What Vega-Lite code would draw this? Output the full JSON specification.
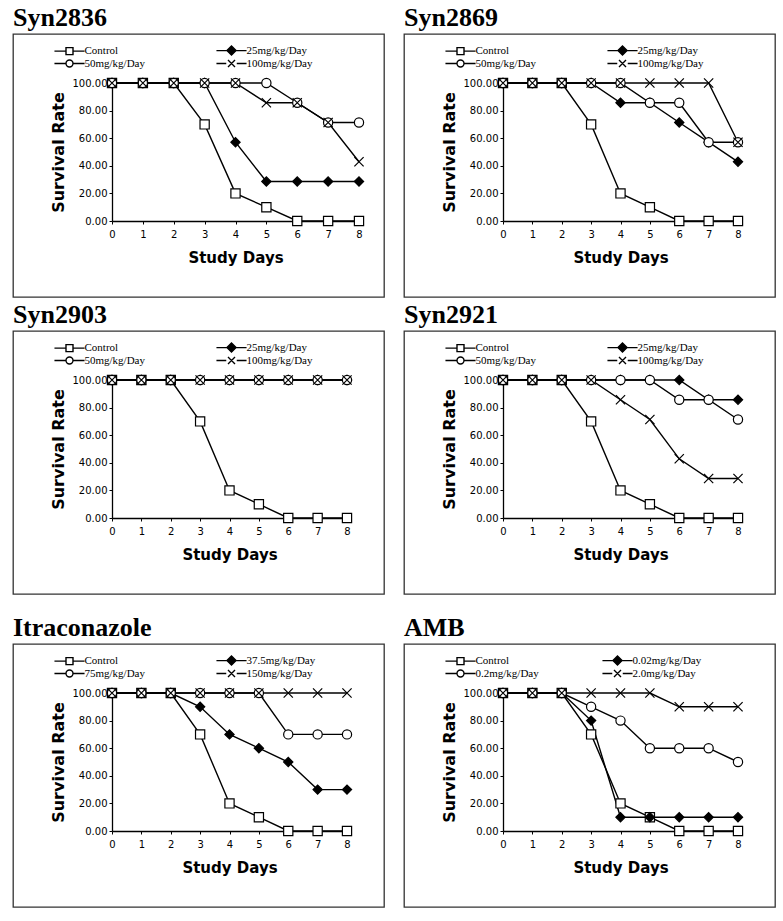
{
  "$schema": "https://vega.github.io/schema/vega-lite/v6.json",
  "background": "white",
  "padding": {"left": 12, "top": 4, "right": 5, "bottom": 5},
  "config": {
    "view": {"stroke": "#333333", "strokeWidth": 1.3},
    "title": {"anchor": "start", "font": "Liberation Serif", "fontSize": 26, "fontWeight": "bold", "color": "black", "offset": 3},
    "axis": {"grid": false, "domainColor": "black", "domainWidth": 1.3, "tickColor": "black", "tickSize": 3, "tickWidth": 1, "labelFont": "DejaVu Sans", "labelFontSize": 10, "labelColor": "black", "labelFlush": false, "titleFont": "DejaVu Sans", "titleFontSize": 15, "titleFontWeight": "bold", "titleColor": "black"},
    "axisX": {"labelPadding": 5, "titlePadding": 11},
    "axisY": {"labelPadding": 2, "titlePadding": 6, "titleFontSize": 16},
    "legend": {"orient": "none", "legendX": 51, "legendY": 11, "columns": 2, "rowPadding": -2, "labelFont": "Liberation Serif", "labelFontSize": 11, "labelColor": "black", "labelOffset": 9.5, "symbolSize": 49, "symbolStrokeWidth": 1.4}
  },
  "datasets": {
    "surv": [
      {"panel":"Syn2836","series":"Control","day":0,"rate":100},{"panel":"Syn2836","series":"Control","day":1,"rate":100},{"panel":"Syn2836","series":"Control","day":2,"rate":100},{"panel":"Syn2836","series":"Control","day":3,"rate":70},{"panel":"Syn2836","series":"Control","day":4,"rate":20},{"panel":"Syn2836","series":"Control","day":5,"rate":10},{"panel":"Syn2836","series":"Control","day":6,"rate":0},{"panel":"Syn2836","series":"Control","day":7,"rate":0},{"panel":"Syn2836","series":"Control","day":8,"rate":0},
      {"panel":"Syn2836","series":"25mg/kg/Day","day":0,"rate":100},{"panel":"Syn2836","series":"25mg/kg/Day","day":1,"rate":100},{"panel":"Syn2836","series":"25mg/kg/Day","day":2,"rate":100},{"panel":"Syn2836","series":"25mg/kg/Day","day":3,"rate":100},{"panel":"Syn2836","series":"25mg/kg/Day","day":4,"rate":57.1},{"panel":"Syn2836","series":"25mg/kg/Day","day":5,"rate":28.6},{"panel":"Syn2836","series":"25mg/kg/Day","day":6,"rate":28.6},{"panel":"Syn2836","series":"25mg/kg/Day","day":7,"rate":28.6},{"panel":"Syn2836","series":"25mg/kg/Day","day":8,"rate":28.6},
      {"panel":"Syn2836","series":"50mg/kg/Day","day":0,"rate":100},{"panel":"Syn2836","series":"50mg/kg/Day","day":1,"rate":100},{"panel":"Syn2836","series":"50mg/kg/Day","day":2,"rate":100},{"panel":"Syn2836","series":"50mg/kg/Day","day":3,"rate":100},{"panel":"Syn2836","series":"50mg/kg/Day","day":4,"rate":100},{"panel":"Syn2836","series":"50mg/kg/Day","day":5,"rate":100},{"panel":"Syn2836","series":"50mg/kg/Day","day":6,"rate":85.7},{"panel":"Syn2836","series":"50mg/kg/Day","day":7,"rate":71.4},{"panel":"Syn2836","series":"50mg/kg/Day","day":8,"rate":71.4},
      {"panel":"Syn2836","series":"100mg/kg/Day","day":0,"rate":100},{"panel":"Syn2836","series":"100mg/kg/Day","day":1,"rate":100},{"panel":"Syn2836","series":"100mg/kg/Day","day":2,"rate":100},{"panel":"Syn2836","series":"100mg/kg/Day","day":3,"rate":100},{"panel":"Syn2836","series":"100mg/kg/Day","day":4,"rate":100},{"panel":"Syn2836","series":"100mg/kg/Day","day":5,"rate":85.7},{"panel":"Syn2836","series":"100mg/kg/Day","day":6,"rate":85.7},{"panel":"Syn2836","series":"100mg/kg/Day","day":7,"rate":71.4},{"panel":"Syn2836","series":"100mg/kg/Day","day":8,"rate":42.9},

      {"panel":"Syn2869","series":"Control","day":0,"rate":100},{"panel":"Syn2869","series":"Control","day":1,"rate":100},{"panel":"Syn2869","series":"Control","day":2,"rate":100},{"panel":"Syn2869","series":"Control","day":3,"rate":70},{"panel":"Syn2869","series":"Control","day":4,"rate":20},{"panel":"Syn2869","series":"Control","day":5,"rate":10},{"panel":"Syn2869","series":"Control","day":6,"rate":0},{"panel":"Syn2869","series":"Control","day":7,"rate":0},{"panel":"Syn2869","series":"Control","day":8,"rate":0},
      {"panel":"Syn2869","series":"25mg/kg/Day","day":0,"rate":100},{"panel":"Syn2869","series":"25mg/kg/Day","day":1,"rate":100},{"panel":"Syn2869","series":"25mg/kg/Day","day":2,"rate":100},{"panel":"Syn2869","series":"25mg/kg/Day","day":3,"rate":100},{"panel":"Syn2869","series":"25mg/kg/Day","day":4,"rate":85.7},{"panel":"Syn2869","series":"25mg/kg/Day","day":5,"rate":85.7},{"panel":"Syn2869","series":"25mg/kg/Day","day":6,"rate":71.4},{"panel":"Syn2869","series":"25mg/kg/Day","day":7,"rate":57.1},{"panel":"Syn2869","series":"25mg/kg/Day","day":8,"rate":42.9},
      {"panel":"Syn2869","series":"50mg/kg/Day","day":0,"rate":100},{"panel":"Syn2869","series":"50mg/kg/Day","day":1,"rate":100},{"panel":"Syn2869","series":"50mg/kg/Day","day":2,"rate":100},{"panel":"Syn2869","series":"50mg/kg/Day","day":3,"rate":100},{"panel":"Syn2869","series":"50mg/kg/Day","day":4,"rate":100},{"panel":"Syn2869","series":"50mg/kg/Day","day":5,"rate":85.7},{"panel":"Syn2869","series":"50mg/kg/Day","day":6,"rate":85.7},{"panel":"Syn2869","series":"50mg/kg/Day","day":7,"rate":57.1},{"panel":"Syn2869","series":"50mg/kg/Day","day":8,"rate":57.1},
      {"panel":"Syn2869","series":"100mg/kg/Day","day":0,"rate":100},{"panel":"Syn2869","series":"100mg/kg/Day","day":1,"rate":100},{"panel":"Syn2869","series":"100mg/kg/Day","day":2,"rate":100},{"panel":"Syn2869","series":"100mg/kg/Day","day":3,"rate":100},{"panel":"Syn2869","series":"100mg/kg/Day","day":4,"rate":100},{"panel":"Syn2869","series":"100mg/kg/Day","day":5,"rate":100},{"panel":"Syn2869","series":"100mg/kg/Day","day":6,"rate":100},{"panel":"Syn2869","series":"100mg/kg/Day","day":7,"rate":100},{"panel":"Syn2869","series":"100mg/kg/Day","day":8,"rate":57.1},

      {"panel":"Syn2903","series":"Control","day":0,"rate":100},{"panel":"Syn2903","series":"Control","day":1,"rate":100},{"panel":"Syn2903","series":"Control","day":2,"rate":100},{"panel":"Syn2903","series":"Control","day":3,"rate":70},{"panel":"Syn2903","series":"Control","day":4,"rate":20},{"panel":"Syn2903","series":"Control","day":5,"rate":10},{"panel":"Syn2903","series":"Control","day":6,"rate":0},{"panel":"Syn2903","series":"Control","day":7,"rate":0},{"panel":"Syn2903","series":"Control","day":8,"rate":0},
      {"panel":"Syn2903","series":"25mg/kg/Day","day":0,"rate":100},{"panel":"Syn2903","series":"25mg/kg/Day","day":1,"rate":100},{"panel":"Syn2903","series":"25mg/kg/Day","day":2,"rate":100},{"panel":"Syn2903","series":"25mg/kg/Day","day":3,"rate":100},{"panel":"Syn2903","series":"25mg/kg/Day","day":4,"rate":100},{"panel":"Syn2903","series":"25mg/kg/Day","day":5,"rate":100},{"panel":"Syn2903","series":"25mg/kg/Day","day":6,"rate":100},{"panel":"Syn2903","series":"25mg/kg/Day","day":7,"rate":100},{"panel":"Syn2903","series":"25mg/kg/Day","day":8,"rate":100},
      {"panel":"Syn2903","series":"50mg/kg/Day","day":0,"rate":100},{"panel":"Syn2903","series":"50mg/kg/Day","day":1,"rate":100},{"panel":"Syn2903","series":"50mg/kg/Day","day":2,"rate":100},{"panel":"Syn2903","series":"50mg/kg/Day","day":3,"rate":100},{"panel":"Syn2903","series":"50mg/kg/Day","day":4,"rate":100},{"panel":"Syn2903","series":"50mg/kg/Day","day":5,"rate":100},{"panel":"Syn2903","series":"50mg/kg/Day","day":6,"rate":100},{"panel":"Syn2903","series":"50mg/kg/Day","day":7,"rate":100},{"panel":"Syn2903","series":"50mg/kg/Day","day":8,"rate":100},
      {"panel":"Syn2903","series":"100mg/kg/Day","day":0,"rate":100},{"panel":"Syn2903","series":"100mg/kg/Day","day":1,"rate":100},{"panel":"Syn2903","series":"100mg/kg/Day","day":2,"rate":100},{"panel":"Syn2903","series":"100mg/kg/Day","day":3,"rate":100},{"panel":"Syn2903","series":"100mg/kg/Day","day":4,"rate":100},{"panel":"Syn2903","series":"100mg/kg/Day","day":5,"rate":100},{"panel":"Syn2903","series":"100mg/kg/Day","day":6,"rate":100},{"panel":"Syn2903","series":"100mg/kg/Day","day":7,"rate":100},{"panel":"Syn2903","series":"100mg/kg/Day","day":8,"rate":100},

      {"panel":"Syn2921","series":"Control","day":0,"rate":100},{"panel":"Syn2921","series":"Control","day":1,"rate":100},{"panel":"Syn2921","series":"Control","day":2,"rate":100},{"panel":"Syn2921","series":"Control","day":3,"rate":70},{"panel":"Syn2921","series":"Control","day":4,"rate":20},{"panel":"Syn2921","series":"Control","day":5,"rate":10},{"panel":"Syn2921","series":"Control","day":6,"rate":0},{"panel":"Syn2921","series":"Control","day":7,"rate":0},{"panel":"Syn2921","series":"Control","day":8,"rate":0},
      {"panel":"Syn2921","series":"25mg/kg/Day","day":0,"rate":100},{"panel":"Syn2921","series":"25mg/kg/Day","day":1,"rate":100},{"panel":"Syn2921","series":"25mg/kg/Day","day":2,"rate":100},{"panel":"Syn2921","series":"25mg/kg/Day","day":3,"rate":100},{"panel":"Syn2921","series":"25mg/kg/Day","day":4,"rate":100},{"panel":"Syn2921","series":"25mg/kg/Day","day":5,"rate":100},{"panel":"Syn2921","series":"25mg/kg/Day","day":6,"rate":100},{"panel":"Syn2921","series":"25mg/kg/Day","day":7,"rate":85.7},{"panel":"Syn2921","series":"25mg/kg/Day","day":8,"rate":85.7},
      {"panel":"Syn2921","series":"50mg/kg/Day","day":0,"rate":100},{"panel":"Syn2921","series":"50mg/kg/Day","day":1,"rate":100},{"panel":"Syn2921","series":"50mg/kg/Day","day":2,"rate":100},{"panel":"Syn2921","series":"50mg/kg/Day","day":3,"rate":100},{"panel":"Syn2921","series":"50mg/kg/Day","day":4,"rate":100},{"panel":"Syn2921","series":"50mg/kg/Day","day":5,"rate":100},{"panel":"Syn2921","series":"50mg/kg/Day","day":6,"rate":85.7},{"panel":"Syn2921","series":"50mg/kg/Day","day":7,"rate":85.7},{"panel":"Syn2921","series":"50mg/kg/Day","day":8,"rate":71.4},
      {"panel":"Syn2921","series":"100mg/kg/Day","day":0,"rate":100},{"panel":"Syn2921","series":"100mg/kg/Day","day":1,"rate":100},{"panel":"Syn2921","series":"100mg/kg/Day","day":2,"rate":100},{"panel":"Syn2921","series":"100mg/kg/Day","day":3,"rate":100},{"panel":"Syn2921","series":"100mg/kg/Day","day":4,"rate":85.7},{"panel":"Syn2921","series":"100mg/kg/Day","day":5,"rate":71.4},{"panel":"Syn2921","series":"100mg/kg/Day","day":6,"rate":42.9},{"panel":"Syn2921","series":"100mg/kg/Day","day":7,"rate":28.6},{"panel":"Syn2921","series":"100mg/kg/Day","day":8,"rate":28.6},

      {"panel":"Itraconazole","series":"Control","day":0,"rate":100},{"panel":"Itraconazole","series":"Control","day":1,"rate":100},{"panel":"Itraconazole","series":"Control","day":2,"rate":100},{"panel":"Itraconazole","series":"Control","day":3,"rate":70},{"panel":"Itraconazole","series":"Control","day":4,"rate":20},{"panel":"Itraconazole","series":"Control","day":5,"rate":10},{"panel":"Itraconazole","series":"Control","day":6,"rate":0},{"panel":"Itraconazole","series":"Control","day":7,"rate":0},{"panel":"Itraconazole","series":"Control","day":8,"rate":0},
      {"panel":"Itraconazole","series":"37.5mg/kg/Day","day":0,"rate":100},{"panel":"Itraconazole","series":"37.5mg/kg/Day","day":1,"rate":100},{"panel":"Itraconazole","series":"37.5mg/kg/Day","day":2,"rate":100},{"panel":"Itraconazole","series":"37.5mg/kg/Day","day":3,"rate":90},{"panel":"Itraconazole","series":"37.5mg/kg/Day","day":4,"rate":70},{"panel":"Itraconazole","series":"37.5mg/kg/Day","day":5,"rate":60},{"panel":"Itraconazole","series":"37.5mg/kg/Day","day":6,"rate":50},{"panel":"Itraconazole","series":"37.5mg/kg/Day","day":7,"rate":30},{"panel":"Itraconazole","series":"37.5mg/kg/Day","day":8,"rate":30},
      {"panel":"Itraconazole","series":"75mg/kg/Day","day":0,"rate":100},{"panel":"Itraconazole","series":"75mg/kg/Day","day":1,"rate":100},{"panel":"Itraconazole","series":"75mg/kg/Day","day":2,"rate":100},{"panel":"Itraconazole","series":"75mg/kg/Day","day":3,"rate":100},{"panel":"Itraconazole","series":"75mg/kg/Day","day":4,"rate":100},{"panel":"Itraconazole","series":"75mg/kg/Day","day":5,"rate":100},{"panel":"Itraconazole","series":"75mg/kg/Day","day":6,"rate":70},{"panel":"Itraconazole","series":"75mg/kg/Day","day":7,"rate":70},{"panel":"Itraconazole","series":"75mg/kg/Day","day":8,"rate":70},
      {"panel":"Itraconazole","series":"150mg/kg/Day","day":0,"rate":100},{"panel":"Itraconazole","series":"150mg/kg/Day","day":1,"rate":100},{"panel":"Itraconazole","series":"150mg/kg/Day","day":2,"rate":100},{"panel":"Itraconazole","series":"150mg/kg/Day","day":3,"rate":100},{"panel":"Itraconazole","series":"150mg/kg/Day","day":4,"rate":100},{"panel":"Itraconazole","series":"150mg/kg/Day","day":5,"rate":100},{"panel":"Itraconazole","series":"150mg/kg/Day","day":6,"rate":100},{"panel":"Itraconazole","series":"150mg/kg/Day","day":7,"rate":100},{"panel":"Itraconazole","series":"150mg/kg/Day","day":8,"rate":100},

      {"panel":"AMB","series":"Control","day":0,"rate":100},{"panel":"AMB","series":"Control","day":1,"rate":100},{"panel":"AMB","series":"Control","day":2,"rate":100},{"panel":"AMB","series":"Control","day":3,"rate":70},{"panel":"AMB","series":"Control","day":4,"rate":20},{"panel":"AMB","series":"Control","day":5,"rate":10},{"panel":"AMB","series":"Control","day":6,"rate":0},{"panel":"AMB","series":"Control","day":7,"rate":0},{"panel":"AMB","series":"Control","day":8,"rate":0},
      {"panel":"AMB","series":"0.02mg/kg/Day","day":0,"rate":100},{"panel":"AMB","series":"0.02mg/kg/Day","day":1,"rate":100},{"panel":"AMB","series":"0.02mg/kg/Day","day":2,"rate":100},{"panel":"AMB","series":"0.02mg/kg/Day","day":3,"rate":80},{"panel":"AMB","series":"0.02mg/kg/Day","day":4,"rate":10},{"panel":"AMB","series":"0.02mg/kg/Day","day":5,"rate":10},{"panel":"AMB","series":"0.02mg/kg/Day","day":6,"rate":10},{"panel":"AMB","series":"0.02mg/kg/Day","day":7,"rate":10},{"panel":"AMB","series":"0.02mg/kg/Day","day":8,"rate":10},
      {"panel":"AMB","series":"0.2mg/kg/Day","day":0,"rate":100},{"panel":"AMB","series":"0.2mg/kg/Day","day":1,"rate":100},{"panel":"AMB","series":"0.2mg/kg/Day","day":2,"rate":100},{"panel":"AMB","series":"0.2mg/kg/Day","day":3,"rate":90},{"panel":"AMB","series":"0.2mg/kg/Day","day":4,"rate":80},{"panel":"AMB","series":"0.2mg/kg/Day","day":5,"rate":60},{"panel":"AMB","series":"0.2mg/kg/Day","day":6,"rate":60},{"panel":"AMB","series":"0.2mg/kg/Day","day":7,"rate":60},{"panel":"AMB","series":"0.2mg/kg/Day","day":8,"rate":50},
      {"panel":"AMB","series":"2.0mg/kg/Day","day":0,"rate":100},{"panel":"AMB","series":"2.0mg/kg/Day","day":1,"rate":100},{"panel":"AMB","series":"2.0mg/kg/Day","day":2,"rate":100},{"panel":"AMB","series":"2.0mg/kg/Day","day":3,"rate":100},{"panel":"AMB","series":"2.0mg/kg/Day","day":4,"rate":100},{"panel":"AMB","series":"2.0mg/kg/Day","day":5,"rate":100},{"panel":"AMB","series":"2.0mg/kg/Day","day":6,"rate":90},{"panel":"AMB","series":"2.0mg/kg/Day","day":7,"rate":90},{"panel":"AMB","series":"2.0mg/kg/Day","day":8,"rate":90}
    ]
  },
  "data": {"name": "surv"},
  "spacing": 19,
  "vconcat": [
    {
      "spacing": 3,
      "vconcat": [
        {
          "spacing": 18,
          "hconcat": [
            {
              "width": 371, "height": 263,
              "title": "Syn2836",
              "transform": [{"filter": "datum.panel === 'Syn2836'"}],
              "encoding": {
                "x": {"field": "day", "type": "quantitative", "scale": {"domain": [0, 8], "range": [99, 346], "nice": false, "zero": false}, "axis": {"values": [0,1,2,3,4,5,6,7,8], "offset": -76, "title": "Study Days"}},
                "y": {"field": "rate", "type": "quantitative", "scale": {"domain": [0, 100], "range": [187, 49], "nice": false}, "axis": {"values": [0,20,40,60,80,100], "format": ".2f", "offset": -99, "title": "Survival Rate"}}
              },
              "layer": [
                {"mark": {"type": "line", "color": "black", "strokeWidth": 1.4}, "encoding": {"detail": {"field": "series"}}},
                {"mark": {"type": "point", "filled": true, "stroke": "black", "strokeWidth": 1.2, "size": 85, "opacity": 1},
                 "encoding": {
                   "shape": {"field": "series", "scale": {"domain": ["Control","25mg/kg/Day","50mg/kg/Day","100mg/kg/Day"], "range": ["square","diamond","circle","M-1,-1L1,1M-1,1L1,-1"]}, "legend": null},
                   "fill": {"field": "series", "scale": {"domain": ["Control","25mg/kg/Day","50mg/kg/Day","100mg/kg/Day"], "range": ["white","black","white","white"]}, "legend": null}}},
                {"transform": [{"filter": "datum.day < 0"}],
                 "mark": {"type": "point", "filled": true, "strokeWidth": 1.4, "opacity": 1},
                 "encoding": {
                   "shape": {"field": "series", "scale": {"domain": ["Control","50mg/kg/Day","25mg/kg/Day","100mg/kg/Day"], "range": ["M-4.3,0H-1M1,0H4.3M-1,-1H1V1H-1Z","M-4.3,0H-1M1,0H4.3M-1,0A1,1,0,1,1,1,0A1,1,0,1,1,-1,0Z","M-4.3,0H4.3M0,-1.3L1.3,0L0,1.3L-1.3,0Z","M-4.3,0H-1.5M1.5,0H4.3M-1,-1L1,1M-1,1L1,-1"]}, "legend": {"title": null, "columnPadding": 68}},
                   "fill": {"field": "series", "scale": {"domain": ["Control","50mg/kg/Day","25mg/kg/Day","100mg/kg/Day"], "range": ["white","white","black","white"]}, "legend": {"title": null, "columnPadding": 68}},
                   "stroke": {"field": "series", "scale": {"domain": ["Control","50mg/kg/Day","25mg/kg/Day","100mg/kg/Day"], "range": ["black","black","black","black"]}, "legend": {"title": null, "columnPadding": 68}}}}
              ],
              "resolve": {"scale": {"shape": "independent", "fill": "independent", "stroke": "independent"}}
            },
            {
              "width": 371, "height": 263,
              "title": "Syn2869",
              "transform": [{"filter": "datum.panel === 'Syn2869'"}],
              "encoding": {
                "x": {"field": "day", "type": "quantitative", "scale": {"domain": [0, 8], "range": [99, 334], "nice": false, "zero": false}, "axis": {"values": [0,1,2,3,4,5,6,7,8], "offset": -76, "title": "Study Days"}},
                "y": {"field": "rate", "type": "quantitative", "scale": {"domain": [0, 100], "range": [187, 49], "nice": false}, "axis": {"values": [0,20,40,60,80,100], "format": ".2f", "offset": -99, "title": "Survival Rate"}}
              },
              "layer": [
                {"mark": {"type": "line", "color": "black", "strokeWidth": 1.4}, "encoding": {"detail": {"field": "series"}}},
                {"mark": {"type": "point", "filled": true, "stroke": "black", "strokeWidth": 1.2, "size": 85, "opacity": 1},
                 "encoding": {
                   "shape": {"field": "series", "scale": {"domain": ["Control","25mg/kg/Day","50mg/kg/Day","100mg/kg/Day"], "range": ["square","diamond","circle","M-1,-1L1,1M-1,1L1,-1"]}, "legend": null},
                   "fill": {"field": "series", "scale": {"domain": ["Control","25mg/kg/Day","50mg/kg/Day","100mg/kg/Day"], "range": ["white","black","white","white"]}, "legend": null}}},
                {"transform": [{"filter": "datum.day < 0"}],
                 "mark": {"type": "point", "filled": true, "strokeWidth": 1.4, "opacity": 1},
                 "encoding": {
                   "shape": {"field": "series", "scale": {"domain": ["Control","50mg/kg/Day","25mg/kg/Day","100mg/kg/Day"], "range": ["M-4.3,0H-1M1,0H4.3M-1,-1H1V1H-1Z","M-4.3,0H-1M1,0H4.3M-1,0A1,1,0,1,1,1,0A1,1,0,1,1,-1,0Z","M-4.3,0H4.3M0,-1.3L1.3,0L0,1.3L-1.3,0Z","M-4.3,0H-1.5M1.5,0H4.3M-1,-1L1,1M-1,1L1,-1"]}, "legend": {"title": null, "columnPadding": 68}},
                   "fill": {"field": "series", "scale": {"domain": ["Control","50mg/kg/Day","25mg/kg/Day","100mg/kg/Day"], "range": ["white","white","black","white"]}, "legend": {"title": null, "columnPadding": 68}},
                   "stroke": {"field": "series", "scale": {"domain": ["Control","50mg/kg/Day","25mg/kg/Day","100mg/kg/Day"], "range": ["black","black","black","black"]}, "legend": {"title": null, "columnPadding": 68}}}}
              ],
              "resolve": {"scale": {"shape": "independent", "fill": "independent", "stroke": "independent"}}
            }
          ]
        },
        {
          "spacing": 18,
          "hconcat": [
            {
              "width": 371, "height": 263,
              "title": "Syn2903",
              "transform": [{"filter": "datum.panel === 'Syn2903'"}],
              "encoding": {
                "x": {"field": "day", "type": "quantitative", "scale": {"domain": [0, 8], "range": [99, 334], "nice": false, "zero": false}, "axis": {"values": [0,1,2,3,4,5,6,7,8], "offset": -76, "title": "Study Days"}},
                "y": {"field": "rate", "type": "quantitative", "scale": {"domain": [0, 100], "range": [187, 49], "nice": false}, "axis": {"values": [0,20,40,60,80,100], "format": ".2f", "offset": -99, "title": "Survival Rate"}}
              },
              "layer": [
                {"mark": {"type": "line", "color": "black", "strokeWidth": 1.4}, "encoding": {"detail": {"field": "series"}}},
                {"mark": {"type": "point", "filled": true, "stroke": "black", "strokeWidth": 1.2, "size": 85, "opacity": 1},
                 "encoding": {
                   "shape": {"field": "series", "scale": {"domain": ["Control","25mg/kg/Day","50mg/kg/Day","100mg/kg/Day"], "range": ["square","diamond","circle","M-1,-1L1,1M-1,1L1,-1"]}, "legend": null},
                   "fill": {"field": "series", "scale": {"domain": ["Control","25mg/kg/Day","50mg/kg/Day","100mg/kg/Day"], "range": ["white","black","white","white"]}, "legend": null}}},
                {"transform": [{"filter": "datum.day < 0"}],
                 "mark": {"type": "point", "filled": true, "strokeWidth": 1.4, "opacity": 1},
                 "encoding": {
                   "shape": {"field": "series", "scale": {"domain": ["Control","50mg/kg/Day","25mg/kg/Day","100mg/kg/Day"], "range": ["M-4.3,0H-1M1,0H4.3M-1,-1H1V1H-1Z","M-4.3,0H-1M1,0H4.3M-1,0A1,1,0,1,1,1,0A1,1,0,1,1,-1,0Z","M-4.3,0H4.3M0,-1.3L1.3,0L0,1.3L-1.3,0Z","M-4.3,0H-1.5M1.5,0H4.3M-1,-1L1,1M-1,1L1,-1"]}, "legend": {"title": null, "columnPadding": 68}},
                   "fill": {"field": "series", "scale": {"domain": ["Control","50mg/kg/Day","25mg/kg/Day","100mg/kg/Day"], "range": ["white","white","black","white"]}, "legend": {"title": null, "columnPadding": 68}},
                   "stroke": {"field": "series", "scale": {"domain": ["Control","50mg/kg/Day","25mg/kg/Day","100mg/kg/Day"], "range": ["black","black","black","black"]}, "legend": {"title": null, "columnPadding": 68}}}}
              ],
              "resolve": {"scale": {"shape": "independent", "fill": "independent", "stroke": "independent"}}
            },
            {
              "width": 371, "height": 263,
              "title": "Syn2921",
              "transform": [{"filter": "datum.panel === 'Syn2921'"}],
              "encoding": {
                "x": {"field": "day", "type": "quantitative", "scale": {"domain": [0, 8], "range": [99, 334], "nice": false, "zero": false}, "axis": {"values": [0,1,2,3,4,5,6,7,8], "offset": -76, "title": "Study Days"}},
                "y": {"field": "rate", "type": "quantitative", "scale": {"domain": [0, 100], "range": [187, 49], "nice": false}, "axis": {"values": [0,20,40,60,80,100], "format": ".2f", "offset": -99, "title": "Survival Rate"}}
              },
              "layer": [
                {"mark": {"type": "line", "color": "black", "strokeWidth": 1.4}, "encoding": {"detail": {"field": "series"}}},
                {"mark": {"type": "point", "filled": true, "stroke": "black", "strokeWidth": 1.2, "size": 85, "opacity": 1},
                 "encoding": {
                   "shape": {"field": "series", "scale": {"domain": ["Control","25mg/kg/Day","50mg/kg/Day","100mg/kg/Day"], "range": ["square","diamond","circle","M-1,-1L1,1M-1,1L1,-1"]}, "legend": null},
                   "fill": {"field": "series", "scale": {"domain": ["Control","25mg/kg/Day","50mg/kg/Day","100mg/kg/Day"], "range": ["white","black","white","white"]}, "legend": null}}},
                {"transform": [{"filter": "datum.day < 0"}],
                 "mark": {"type": "point", "filled": true, "strokeWidth": 1.4, "opacity": 1},
                 "encoding": {
                   "shape": {"field": "series", "scale": {"domain": ["Control","50mg/kg/Day","25mg/kg/Day","100mg/kg/Day"], "range": ["M-4.3,0H-1M1,0H4.3M-1,-1H1V1H-1Z","M-4.3,0H-1M1,0H4.3M-1,0A1,1,0,1,1,1,0A1,1,0,1,1,-1,0Z","M-4.3,0H4.3M0,-1.3L1.3,0L0,1.3L-1.3,0Z","M-4.3,0H-1.5M1.5,0H4.3M-1,-1L1,1M-1,1L1,-1"]}, "legend": {"title": null, "columnPadding": 68}},
                   "fill": {"field": "series", "scale": {"domain": ["Control","50mg/kg/Day","25mg/kg/Day","100mg/kg/Day"], "range": ["white","white","black","white"]}, "legend": {"title": null, "columnPadding": 68}},
                   "stroke": {"field": "series", "scale": {"domain": ["Control","50mg/kg/Day","25mg/kg/Day","100mg/kg/Day"], "range": ["black","black","black","black"]}, "legend": {"title": null, "columnPadding": 68}}}}
              ],
              "resolve": {"scale": {"shape": "independent", "fill": "independent", "stroke": "independent"}}
            }
          ]
        }
      ]
    },
    {
      "spacing": 18,
      "hconcat": [
        {
          "width": 371, "height": 263,
          "title": "Itraconazole",
          "transform": [{"filter": "datum.panel === 'Itraconazole'"}],
          "encoding": {
            "x": {"field": "day", "type": "quantitative", "scale": {"domain": [0, 8], "range": [99, 334], "nice": false, "zero": false}, "axis": {"values": [0,1,2,3,4,5,6,7,8], "offset": -76, "title": "Study Days"}},
            "y": {"field": "rate", "type": "quantitative", "scale": {"domain": [0, 100], "range": [187, 49], "nice": false}, "axis": {"values": [0,20,40,60,80,100], "format": ".2f", "offset": -99, "title": "Survival Rate"}}
          },
          "layer": [
            {"mark": {"type": "line", "color": "black", "strokeWidth": 1.4}, "encoding": {"detail": {"field": "series"}}},
            {"mark": {"type": "point", "filled": true, "stroke": "black", "strokeWidth": 1.2, "size": 85, "opacity": 1},
             "encoding": {
               "shape": {"field": "series", "scale": {"domain": ["Control","37.5mg/kg/Day","75mg/kg/Day","150mg/kg/Day"], "range": ["square","diamond","circle","M-1,-1L1,1M-1,1L1,-1"]}, "legend": null},
               "fill": {"field": "series", "scale": {"domain": ["Control","37.5mg/kg/Day","75mg/kg/Day","150mg/kg/Day"], "range": ["white","black","white","white"]}, "legend": null}}},
            {"transform": [{"filter": "datum.day < 0"}],
             "mark": {"type": "point", "filled": true, "strokeWidth": 1.4, "opacity": 1},
             "encoding": {
               "shape": {"field": "series", "scale": {"domain": ["Control","75mg/kg/Day","37.5mg/kg/Day","150mg/kg/Day"], "range": ["M-4.3,0H-1M1,0H4.3M-1,-1H1V1H-1Z","M-4.3,0H-1M1,0H4.3M-1,0A1,1,0,1,1,1,0A1,1,0,1,1,-1,0Z","M-4.3,0H4.3M0,-1.3L1.3,0L0,1.3L-1.3,0Z","M-4.3,0H-1.5M1.5,0H4.3M-1,-1L1,1M-1,1L1,-1"]}, "legend": {"title": null, "columnPadding": 68}},
               "fill": {"field": "series", "scale": {"domain": ["Control","75mg/kg/Day","37.5mg/kg/Day","150mg/kg/Day"], "range": ["white","white","black","white"]}, "legend": {"title": null, "columnPadding": 68}},
               "stroke": {"field": "series", "scale": {"domain": ["Control","75mg/kg/Day","37.5mg/kg/Day","150mg/kg/Day"], "range": ["black","black","black","black"]}, "legend": {"title": null, "columnPadding": 68}}}}
          ],
          "resolve": {"scale": {"shape": "independent", "fill": "independent", "stroke": "independent"}}
        },
        {
          "width": 371, "height": 263,
          "title": "AMB",
          "transform": [{"filter": "datum.panel === 'AMB'"}],
          "encoding": {
            "x": {"field": "day", "type": "quantitative", "scale": {"domain": [0, 8], "range": [99, 334], "nice": false, "zero": false}, "axis": {"values": [0,1,2,3,4,5,6,7,8], "offset": -76, "title": "Study Days"}},
            "y": {"field": "rate", "type": "quantitative", "scale": {"domain": [0, 100], "range": [187, 49], "nice": false}, "axis": {"values": [0,20,40,60,80,100], "format": ".2f", "offset": -99, "title": "Survival Rate"}}
          },
          "layer": [
            {"mark": {"type": "line", "color": "black", "strokeWidth": 1.4}, "encoding": {"detail": {"field": "series"}}},
            {"mark": {"type": "point", "filled": true, "stroke": "black", "strokeWidth": 1.2, "size": 85, "opacity": 1},
             "encoding": {
               "shape": {"field": "series", "scale": {"domain": ["Control","0.02mg/kg/Day","0.2mg/kg/Day","2.0mg/kg/Day"], "range": ["square","diamond","circle","M-1,-1L1,1M-1,1L1,-1"]}, "legend": null},
               "fill": {"field": "series", "scale": {"domain": ["Control","0.02mg/kg/Day","0.2mg/kg/Day","2.0mg/kg/Day"], "range": ["white","black","white","white"]}, "legend": null}}},
            {"transform": [{"filter": "datum.day < 0"}],
             "mark": {"type": "point", "filled": true, "strokeWidth": 1.4, "opacity": 1},
             "encoding": {
               "shape": {"field": "series", "scale": {"domain": ["Control","0.2mg/kg/Day","0.02mg/kg/Day","2.0mg/kg/Day"], "range": ["M-4.3,0H-1M1,0H4.3M-1,-1H1V1H-1Z","M-4.3,0H-1M1,0H4.3M-1,0A1,1,0,1,1,1,0A1,1,0,1,1,-1,0Z","M-4.3,0H4.3M0,-1.3L1.3,0L0,1.3L-1.3,0Z","M-4.3,0H-1.5M1.5,0H4.3M-1,-1L1,1M-1,1L1,-1"]}, "legend": {"title": null, "columnPadding": 60}},
               "fill": {"field": "series", "scale": {"domain": ["Control","0.2mg/kg/Day","0.02mg/kg/Day","2.0mg/kg/Day"], "range": ["white","white","black","white"]}, "legend": {"title": null, "columnPadding": 60}},
               "stroke": {"field": "series", "scale": {"domain": ["Control","0.2mg/kg/Day","0.02mg/kg/Day","2.0mg/kg/Day"], "range": ["black","black","black","black"]}, "legend": {"title": null, "columnPadding": 60}}}}
          ],
          "resolve": {"scale": {"shape": "independent", "fill": "independent", "stroke": "independent"}}
        }
      ]
    }
  ]
}
